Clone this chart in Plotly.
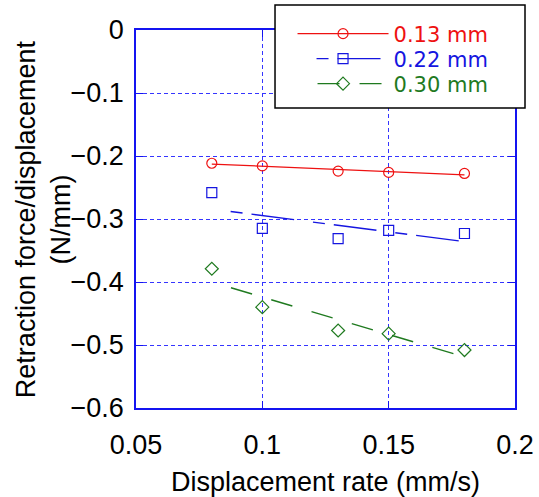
import numpy as np
import plotly.graph_objects as go

# Displacement rate (mm/s) at which each test was run
rate = [0.08, 0.10, 0.13, 0.15, 0.18]

# Retraction force per displacement (N/mm) for three needle diameters
force_013 = [-0.2115, -0.2157, -0.2240, -0.2260, -0.2277]
force_022 = [-0.258, -0.315, -0.331, -0.318, -0.323]
force_030 = [-0.379, -0.440, -0.477, -0.482, -0.508]

series_names = ["0.13 mm", "0.22 mm", "0.30 mm"]
x_ticks = [0.05, 0.1, 0.15, 0.2]
y_ticks = [0, -0.1, -0.2, -0.3, -0.4, -0.5, -0.6]

FONT = "Liberation Sans"
LEGEND_FONT = "DejaVu Sans"
AXIS_BLUE = "#1414f0"
GRID_BLUE = "#3535ff"

styles = [
    dict(color="#ee1111", symbol="circle-open", dash="solid", width=1.2, legend="legend", ly=0.9894),
    dict(color="#1515e0", symbol="square-open", dash="0px,19px,12px,9px,43px,0px", width=1.4, legend="legend2", ly=0.9233),
    dict(color="#1f7a1f", symbol="diamond-open", dash="0px,20px,22px,0px", width=1.4, legend="legend3", ly=0.8571),
]

fig = go.Figure()

xs = np.array(rate)
for name, ys, st in zip(series_names, [force_013, force_022, force_030], styles):
    # least-squares trend line through the measurements
    slope, icpt = np.polyfit(xs, np.array(ys), 1)
    xf = np.array([xs.min(), xs.max()])
    fig.add_trace(go.Scatter(
        x=xf, y=slope * xf + icpt, mode="lines",
        line=dict(color=st["color"], width=st["width"], dash=st["dash"]),
        showlegend=False, hoverinfo="skip"))
    fig.add_trace(go.Scatter(
        x=rate, y=ys, mode="markers",
        marker=dict(symbol=st["symbol"], size=10, color=st["color"],
                    line=dict(color=st["color"], width=1.2)),
        showlegend=False))
    # legend sample: line plus marker
    fig.add_trace(go.Scatter(
        x=[None], y=[None], mode="lines+markers", name=name,
        line=dict(color=st["color"], width=st["width"], dash=st["dash"]),
        marker=dict(symbol=st["symbol"], size=10, color=st["color"],
                    line=dict(color=st["color"], width=1.2)),
        legend=st["legend"], showlegend=True))

axis_common = dict(
    showline=True, linecolor=AXIS_BLUE, linewidth=1.6, mirror="ticks",
    ticks="inside", ticklen=7, tickwidth=1, tickcolor=AXIS_BLUE,
    showgrid=True, gridcolor=GRID_BLUE, gridwidth=1, griddash="4px,3px",
    zeroline=False, tickfont=dict(family=FONT, size=27, color="black"),
)

fig.update_xaxes(range=[0.05, 0.2], tickvals=x_ticks,
                 ticktext=[f"{v:g}" for v in x_ticks],
                 title=dict(text="Displacement rate (mm/s)",
                            font=dict(family=FONT, size=27, color="black"),
                            standoff=14),
                 ticklabelstandoff=12, **axis_common)
fig.update_yaxes(range=[-0.6, 0], tickvals=y_ticks, ticklabelstandoff=5,
                 **axis_common)

# two-line y axis label
fig.add_annotation(
    text="Retraction force/displacement<br>(N/mm)", textangle=-90,
    xref="paper", yref="paper", x=-0.245, y=0.5, xanchor="center",
    yanchor="middle", showarrow=False,
    font=dict(family=FONT, size=27, color="black"))

# legend frame
fig.add_shape(type="rect", xref="paper", yref="paper",
              x0=0.3668, x1=1.0264, y0=0.7937, y1=1.0661,
              line=dict(color="black", width=1.5), fillcolor="white",
              layer="above")

legend_common = dict(x=0.413, xanchor="left", yanchor="middle",
                     bgcolor="rgba(0,0,0,0)", borderwidth=0, itemwidth=91)
layout_legends = {}
for st in styles:
    layout_legends[st["legend"]] = dict(
        y=st["ly"], font=dict(family=LEGEND_FONT, size=21, color=st["color"]),
        **legend_common)

fig.update_layout(
    width=539, height=497,
    margin=dict(l=136, r=24, t=30, b=89, autoexpand=False),
    paper_bgcolor="white", plot_bgcolor="white",
    **layout_legends,
)

fig.write_html("out.html")
